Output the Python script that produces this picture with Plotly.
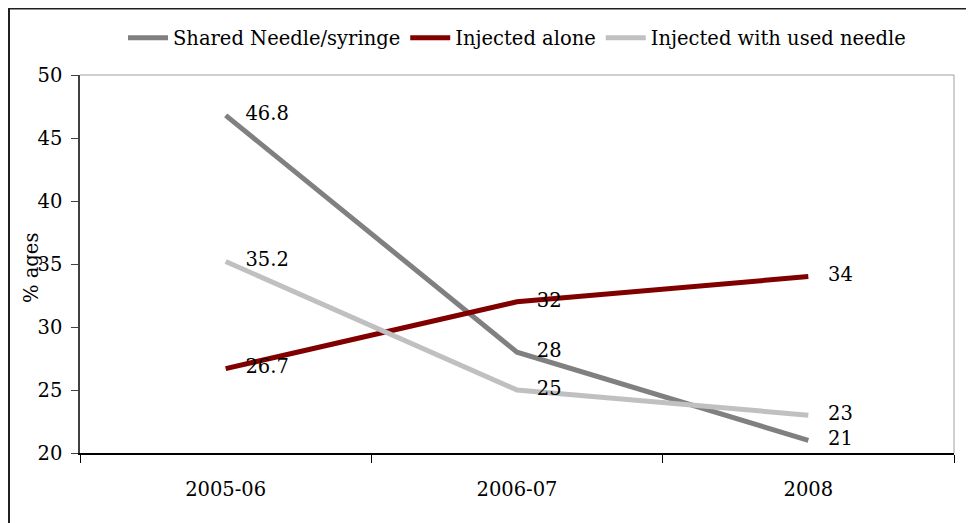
import plotly.graph_objects as go

categories = ["2005-06", "2006-07", "2008"]
shared_needle = [46.8, 28, 21]
injected_alone = [26.7, 32, 34]
used_needle = [35.2, 25, 23]
shared_labels = ["46.8", "28", "21"]
alone_labels = ["26.7", "32", "34"]
used_labels = ["35.2", "25", "23"]

FONT = "DejaVu Serif"
FS = 19.5

# the page body adds an 8px offset; figure is sized to fill the rest
W, H = 966, 515
L, R, T, B = 72, 20, 67, 70
PW, PH = W - L - R, H - T - B

fig = go.Figure()
series = [
    ("Shared Needle/syringe", shared_needle, shared_labels, "#808080"),
    ("Injected alone", injected_alone, alone_labels, "#800000"),
    ("Injected with used needle", used_needle, used_labels, "#c0c0c0"),
]
for name, vals, labels, color in series:
    fig.add_trace(go.Scatter(
        x=categories, y=vals, name=name, mode="lines",
        line=dict(color=color, width=5),
        cliponaxis=False,
    ))
for name, vals, labels, color in series:
    fig.add_trace(go.Scatter(
        x=categories, y=vals, name=name, mode="markers+text",
        text=labels, textposition="middle right",
        textfont=dict(family=FONT, size=FS, color="black"),
        marker=dict(size=30, opacity=0, color=color),
        showlegend=False, hoverinfo="skip",
        cliponaxis=False,
    ))

fig.update_layout(
    width=W, height=H,
    margin=dict(l=L, r=R, t=T, b=B, autoexpand=False),
    plot_bgcolor="white", paper_bgcolor="white",
    font=dict(family=FONT, size=FS, color="black"),
    showlegend=True,
    legend=dict(orientation="h", x=0.5, xanchor="center", y=(H - B - 30) / PH, yanchor="middle",
                font=dict(family=FONT, size=FS), itemwidth=40, tracegroupgap=0),
    xaxis=dict(
        type="category", range=[-0.5, 2.5], tickson="boundaries",
        ticks="outside", ticklen=8, tickcolor="black", tickwidth=1,
        showline=True, linecolor="black", linewidth=1.5,
        mirror=False, showgrid=False, zeroline=False, automargin=False,
        tickfont=dict(family=FONT, size=FS), ticklabelstandoff=18,
    ),
    yaxis=dict(
        range=[20, 50], dtick=5, tick0=20,
        ticks="outside", ticklen=7, tickcolor="#404040", tickwidth=1,
        showline=True, linecolor="#404040", linewidth=1.5,
        showgrid=False, zeroline=False, automargin=False,
        tickfont=dict(family=FONT, size=FS), ticklabelstandoff=5,
    ),
)

# y-axis title placed as in the reference
fig.add_annotation(text="% ages", xref="paper", yref="paper",
                   x=(23 - L) / PW, y=(H - B - 260) / PH, textangle=-90,
                   showarrow=False, font=dict(family=FONT, size=FS),
                   xanchor="center", yanchor="middle")

# plot-area border (top and right) and outer frame
fig.add_shape(type="line", xref="paper", yref="paper", x0=0, x1=1, y0=1, y1=1,
              line=dict(color="#a0a0a0", width=1))
fig.add_shape(type="line", xref="paper", yref="paper", x0=1, x1=1, y0=0, y1=1,
              line=dict(color="#a0a0a0", width=1))
fig.add_shape(type="rect", xref="paper", yref="paper",
              x0=(1 - L) / PW, x1=(W + 20 - L) / PW,
              y0=(H - B - (H + 20)) / PH, y1=(H - B - 0.5) / PH,
              line=dict(color="#202020", width=2), layer="below")

fig.write_html("out.html")
